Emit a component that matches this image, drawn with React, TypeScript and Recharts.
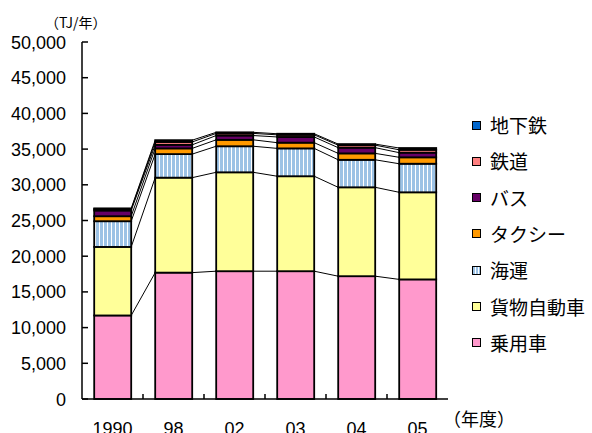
import React from 'react';
import { BarChart, Bar, XAxis, YAxis } from 'recharts';

// ---- data (TJ/年) ----
const years = ['1990', '98', '02', '03', '04', '05'];
const passengerCar = [11700, 17700, 17900, 17900, 17200, 16750]; // 乗用車
const truck = [9600, 13300, 13850, 13300, 12450, 12200]; // 貨物自動車
const shipping = [3600, 3300, 3650, 3900, 3850, 4000]; // 海運
const taxi = [700, 800, 900, 800, 900, 900]; // タクシー
const bus = [800, 500, 600, 800, 800, 650]; // バス
const railway = [200, 400, 300, 300, 350, 400]; // 鉄道
const subway = [100, 250, 150, 150, 150, 250]; // 地下鉄
const yTicks = [0, 5000, 10000, 15000, 20000, 25000, 30000, 35000, 40000, 45000, 50000];

const seriesDefs = [
  { key: 'car', name: '乗用車', values: passengerCar, color: '#FF99CC' },
  { key: 'truck', name: '貨物自動車', values: truck, color: '#FFFF99' },
  { key: 'ship', name: '海運', values: shipping, color: 'url(#hatch)' },
  { key: 'taxi', name: 'タクシー', values: taxi, color: '#FF9900' },
  { key: 'bus', name: 'バス', values: bus, color: '#660066' },
  { key: 'rail', name: '鉄道', values: railway, color: '#FF8080' },
  { key: 'subway', name: '地下鉄', values: subway, color: '#0066CC' },
];

const data = years.map((y, i) => {
  const row: Record<string, any> = { year: y };
  seriesDefs.forEach((s) => {
    row[s.key] = s.values[i];
  });
  return row;
});

const cum = (i: number, s: number) => {
  let t = 0;
  for (let j = 0; j <= s; j++) t += seriesDefs[j].values[i];
  return t;
};

// ---- layout ----
const CHART_W = 592;
const CHART_H = 433;
const MARGIN = { top: 42, right: 144, bottom: 0, left: 0 };
const Y_AXIS_W = 82;
const X_AXIS_H = 34;
const PLOT_W = CHART_W - MARGIN.left - MARGIN.right - Y_AXIS_W;
const BAND = PLOT_W / years.length;

const FONT = "'Liberation Sans', Arial, 'Noto Sans CJK JP', sans-serif";
const JFONT = "'Noto Sans CJK JP', 'Liberation Sans', sans-serif";

const makeShape = (s: number) => (p: any) => {
  const { x, y, width, height, index } = p;
  if (width == null || height == null) return null;
  const low = s > 0 ? cum(index, s - 1) : 0;
  const high = cum(index, s);
  const k = high - low !== 0 ? height / (high - low) : 0;
  const yBase = y + height;
  const toY = (v: number) => yBase - (v - low) * k;
  const fill = seriesDefs[s].color;
  return (
    <g>
      {index < years.length - 1 && (
        <line
          x1={x + width}
          y1={y}
          x2={x + BAND}
          y2={toY(cum(index + 1, s))}
          stroke="#000"
          strokeWidth={1}
        />
      )}
      <rect x={x} y={y} width={width} height={height} fill={fill} stroke="#000" strokeWidth={1.8} />
    </g>
  );
};

const XTick = (p: any) => {
  const { x, y, payload, index } = p;
  const off = payload && payload.offset != null ? payload.offset : BAND / 2;
  return (
    <g>
      {index < years.length - 1 && (
        <line x1={x + off} y1={y} x2={x + off} y2={y - 5} stroke="#000" strokeWidth={1.5} />
      )}
      <text x={x} y={y + 36} textAnchor="middle" fontFamily={FONT} fontSize={18} fill="#000">
        {payload.value}
      </text>
    </g>
  );
};

const YTick = (p: any) => {
  const { x, y, payload } = p;
  return (
    <g>
      <line x1={x} y1={y} x2={x + 6} y2={y} stroke="#000" strokeWidth={1.5} />
      <text x={x - 16} y={y + 6.5} textAnchor="end" fontFamily={FONT} fontSize={18} fill="#000">
        {Number(payload.value).toLocaleString('en-US')}
      </text>
    </g>
  );
};

const legendOrder = [...seriesDefs].reverse();

export default function App() {
  return (
    <div style={{ position: 'absolute', left: 0, top: 0, width: CHART_W, height: CHART_H, background: '#fff', overflow: 'hidden' }}>
      <BarChart
        width={CHART_W}
        height={CHART_H}
        data={data}
        margin={MARGIN}
        barCategoryGap="20%"
      >
        <defs>
          <pattern id="hatch" width="4" height="4" patternUnits="userSpaceOnUse">
            <rect x="0" y="0" width="4" height="4" fill="#FFFFFF" />
            <rect x="0" y="0" width="3" height="4" fill="#9CC2E5" />
          </pattern>
        </defs>
        <XAxis
          dataKey="year"
          height={X_AXIS_H}
          tickLine={false}
          tickSize={0}
          tickMargin={0}
          axisLine={{ stroke: '#000', strokeWidth: 1.5 }}
          tick={<XTick />}
          interval={0}
        />
        <XAxis
          xAxisId="top"
          dataKey="year"
          orientation="top"
          height={0}
          tick={false}
          tickLine={false}
          axisLine={{ stroke: '#000', strokeWidth: 1.5 }}
        />
        <YAxis
          width={Y_AXIS_W}
          domain={[0, 50000]}
          ticks={yTicks}
          tickLine={false}
          tickSize={0}
          tickMargin={0}
          axisLine={{ stroke: '#000', strokeWidth: 1.5 }}
          tick={<YTick />}
          interval={0}
        />
        <YAxis
          yAxisId="right"
          orientation="right"
          width={0}
          domain={[0, 50000]}
          tick={false}
          tickLine={false}
          axisLine={{ stroke: '#000', strokeWidth: 1.5 }}
        />
        {seriesDefs.map((s, i) => (
          <Bar
            key={s.key}
            dataKey={s.key}
            name={s.name}
            stackId="a"
            fill={s.color}
            isAnimationActive={false}
            shape={makeShape(i)}
          />
        ))}
      </BarChart>
      <div style={{ position: 'absolute', left: 45, top: 12, fontFamily: JFONT, fontSize: 14, lineHeight: '20px', whiteSpace: 'nowrap' }}>
        （TJ/年）
      </div>
      <div style={{ position: 'absolute', left: 443, top: 405, fontFamily: JFONT, fontSize: 18, lineHeight: '26px', whiteSpace: 'nowrap' }}>
        （年度）
      </div>
      {legendOrder.map((s, i) => (
        <div
          key={s.key}
          style={{ position: 'absolute', left: 472, top: 125 + i * 36.3 - 13, height: 26, display: 'flex', alignItems: 'center', whiteSpace: 'nowrap' }}
        >
          <div
            style={{
              width: 7,
              height: 7,
              border: '1.5px solid #000',
              background:
                s.key === 'ship'
                  ? 'repeating-linear-gradient(90deg, #9CC2E5 0px, #9CC2E5 2px, #FFFFFF 2px, #FFFFFF 3px)'
                  : s.color,
              marginRight: 9,
            }}
          />
          <span style={{ fontFamily: JFONT, fontSize: 19, lineHeight: '26px', color: '#000' }}>{s.name}</span>
        </div>
      ))}
    </div>
  );
}
